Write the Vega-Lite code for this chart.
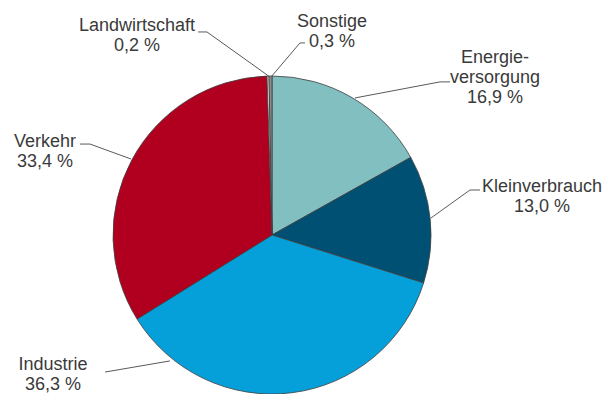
{
  "$schema": "https://vega.github.io/schema/vega-lite/v6.json",
  "width": 605,
  "height": 394,
  "padding": 0,
  "autosize": "none",
  "config": {
    "view": {"stroke": null},
    "axis": {"disable": true},
    "text": {"font": "Liberation Sans", "fontSize": 18, "fill": "#3a3a3a", "lineHeight": 20, "align": "center", "baseline": "alphabetic"},
    "rule": {"stroke": "#5a5a5a", "strokeWidth": 1}
  },
  "datasets": {
    "energie": [
      {"Sektor": "Energieversorgung", "Anteil": 16.9, "Beschriftung": ["Energie-", "versorgung", "16,9 %"]},
      {"Sektor": "Kleinverbrauch", "Anteil": 13.0, "Beschriftung": ["Kleinverbrauch", "13,0 %"]},
      {"Sektor": "Industrie", "Anteil": 36.3, "Beschriftung": ["Industrie", "36,3 %"]},
      {"Sektor": "Verkehr", "Anteil": 33.4, "Beschriftung": ["Verkehr", "33,4 %"]},
      {"Sektor": "Landwirtschaft", "Anteil": 0.2, "Beschriftung": ["Landwirtschaft", "0,2 %"]},
      {"Sektor": "Sonstige", "Anteil": 0.3, "Beschriftung": ["Sonstige", "0,3 %"]}
    ]
  },
  "data": {"name": "energie"},
  "layer": [
    {
      "transform": [{"window": [{"op": "row_number", "as": "Nr"}]}],
      "mark": {"type": "arc", "outerRadius": 159, "stroke": "#3d3d3d", "strokeWidth": 0.8},
      "encoding": {
        "theta": {"field": "Anteil", "type": "quantitative", "stack": true},
        "order": {"field": "Nr", "type": "quantitative"},
        "color": {
          "field": "Sektor", "type": "nominal", "legend": null,
          "scale": {
            "domain": ["Energieversorgung", "Kleinverbrauch", "Industrie", "Verkehr", "Landwirtschaft", "Sonstige"],
            "range": ["#82bfc1", "#005074", "#05a0d9", "#b1001f", "#ececec", "#8c8c8c"]
          }
        },
        "x": {"datum": 0, "type": "quantitative", "scale": {"domain": [-1.7107, 2.0943], "nice": false, "zero": false}, "axis": null},
        "y": {"datum": 0, "type": "quantitative", "scale": {"domain": [-1.0, 1.478], "nice": false, "zero": false}, "axis": null}
      }
    },
    {
      "transform": [{"filter": {"field": "Sektor", "equal": "Landwirtschaft"}}],
      "layer": [
        {"mark": "text", "encoding": {"text": {"field": "Beschriftung"}, "x": {"datum": -0.849, "type": "quantitative"}, "y": {"datum": 1.283, "type": "quantitative"}}},
        {"mark": "rule", "encoding": {"x": {"datum": -0.465, "type": "quantitative"}, "y": {"datum": 1.277, "type": "quantitative"}, "x2": {"datum": -0.409}, "y2": {"datum": 1.277}}},
        {"mark": "rule", "encoding": {"x": {"datum": -0.409, "type": "quantitative"}, "y": {"datum": 1.277, "type": "quantitative"}, "x2": {"datum": -0.013}, "y2": {"datum": 0.994}}}
      ]
    },
    {
      "transform": [{"filter": {"field": "Sektor", "equal": "Sonstige"}}],
      "layer": [
        {"mark": "text", "encoding": {"text": {"field": "Beschriftung"}, "x": {"datum": 0.377, "type": "quantitative"}, "y": {"datum": 1.308, "type": "quantitative"}}},
        {"mark": "rule", "encoding": {"x": {"datum": 0.208, "type": "quantitative"}, "y": {"datum": 1.208, "type": "quantitative"}, "x2": {"datum": 0.176}, "y2": {"datum": 1.208}}},
        {"mark": "rule", "encoding": {"x": {"datum": 0.176, "type": "quantitative"}, "y": {"datum": 1.208, "type": "quantitative"}, "x2": {"datum": -0.006}, "y2": {"datum": 0.994}}}
      ]
    },
    {
      "transform": [{"filter": {"field": "Sektor", "equal": "Energieversorgung"}}],
      "layer": [
        {"mark": "text", "encoding": {"text": {"field": "Beschriftung"}, "x": {"datum": 1.403, "type": "quantitative"}, "y": {"datum": 1.082, "type": "quantitative"}}},
        {"mark": "rule", "encoding": {"x": {"datum": 0.522, "type": "quantitative"}, "y": {"datum": 0.862, "type": "quantitative"}, "x2": {"datum": 1.057}, "y2": {"datum": 0.963}}},
        {"mark": "rule", "encoding": {"x": {"datum": 1.057, "type": "quantitative"}, "y": {"datum": 0.963, "type": "quantitative"}, "x2": {"datum": 1.12}, "y2": {"datum": 0.963}}}
      ]
    },
    {
      "transform": [{"filter": {"field": "Sektor", "equal": "Kleinverbrauch"}}],
      "layer": [
        {"mark": "text", "encoding": {"text": {"field": "Beschriftung"}, "x": {"datum": 1.698, "type": "quantitative"}, "y": {"datum": 0.27, "type": "quantitative"}}},
        {"mark": "rule", "encoding": {"x": {"datum": 1.0, "type": "quantitative"}, "y": {"datum": 0.107, "type": "quantitative"}, "x2": {"datum": 1.245}, "y2": {"datum": 0.283}}},
        {"mark": "rule", "encoding": {"x": {"datum": 1.245, "type": "quantitative"}, "y": {"datum": 0.283, "type": "quantitative"}, "x2": {"datum": 1.308}, "y2": {"datum": 0.283}}}
      ]
    },
    {
      "transform": [{"filter": {"field": "Sektor", "equal": "Verkehr"}}],
      "layer": [
        {"mark": "text", "encoding": {"text": {"field": "Beschriftung"}, "x": {"datum": -1.428, "type": "quantitative"}, "y": {"datum": 0.553, "type": "quantitative"}}},
        {"mark": "rule", "encoding": {"x": {"datum": -1.208, "type": "quantitative"}, "y": {"datum": 0.572, "type": "quantitative"}, "x2": {"datum": -1.145}, "y2": {"datum": 0.572}}},
        {"mark": "rule", "encoding": {"x": {"datum": -1.145, "type": "quantitative"}, "y": {"datum": 0.572, "type": "quantitative"}, "x2": {"datum": -0.887}, "y2": {"datum": 0.478}}}
      ]
    },
    {
      "transform": [{"filter": {"field": "Sektor", "equal": "Industrie"}}],
      "layer": [
        {"mark": "text", "encoding": {"text": {"field": "Beschriftung"}, "x": {"datum": -1.377, "type": "quantitative"}, "y": {"datum": -0.849, "type": "quantitative"}}},
        {"mark": "rule", "encoding": {"x": {"datum": -1.05, "type": "quantitative"}, "y": {"datum": -0.862, "type": "quantitative"}, "x2": {"datum": -0.642}, "y2": {"datum": -0.792}}}
      ]
    }
  ]
}
